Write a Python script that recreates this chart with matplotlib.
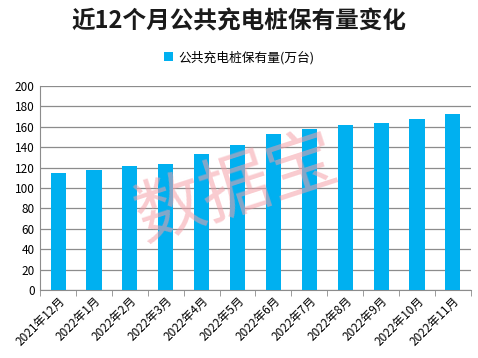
import matplotlib.pyplot as plt
import numpy as np

plt.rcParams['font.family'] = ['Noto Sans CJK SC', 'DejaVu Sans']

months = ['2021年12月', '2022年1月', '2022年2月', '2022年3月', '2022年4月', '2022年5月',
          '2022年6月', '2022年7月', '2022年8月', '2022年9月', '2022年10月', '2022年11月']
values = [114.7, 117.6, 121.6, 123.5, 133.3, 142.2, 152.9, 157.8, 161.8, 163.7, 167.6, 172.5]
series_name = '公共充电桩保有量(万台)'

fig = plt.figure(figsize=(4.78, 3.58), dpi=100)
ax = fig.add_axes([0.084, 0.19, 0.901, 0.57])

x = np.arange(len(months))
ax.bar(x, values, width=0.42, color='#00B0F0', zorder=3, label=series_name)

ax.set_xlim(-0.5, len(months) - 0.5)
ax.set_ylim(0, 200)
ax.set_yticks(range(0, 201, 20))
ax.yaxis.grid(True, color='#8c8c8c', linewidth=0.9, zorder=0)

ax.set_xticks(x)
ax.set_xticklabels(months, rotation=45, ha='right', rotation_mode='anchor', fontsize=8.5)
ax.set_xticks(np.arange(-0.5, len(months)), minor=True)
ax.tick_params(axis='x', which='major', length=0, pad=3)
ax.tick_params(axis='x', which='minor', length=4, color='#8c8c8c', direction='out')
ax.tick_params(axis='y', length=0, labelsize=8.5, pad=4)

for s in ['top', 'right']:
    ax.spines[s].set_visible(False)
for s in ['left', 'bottom']:
    ax.spines[s].set_color('#8c8c8c')

fig.text(0.5, 0.94, '近12个月公共充电桩保有量变化', ha='center', va='center',
         fontsize=17, fontweight='bold', color='#1a1a1a')
ax.legend(loc='center', bbox_to_anchor=(0.5, 0.84), bbox_transform=fig.transFigure,
          frameon=False, fontsize=9.2, handlelength=0.7, handleheight=0.7, handletextpad=0.4)

# watermark
fig.text(0.495, 0.47, '数据宝', ha='center', va='center', fontsize=50, rotation=18,
         color='#f4a0a8', alpha=0.55, zorder=10)

fig.savefig('out.png', dpi=100)
